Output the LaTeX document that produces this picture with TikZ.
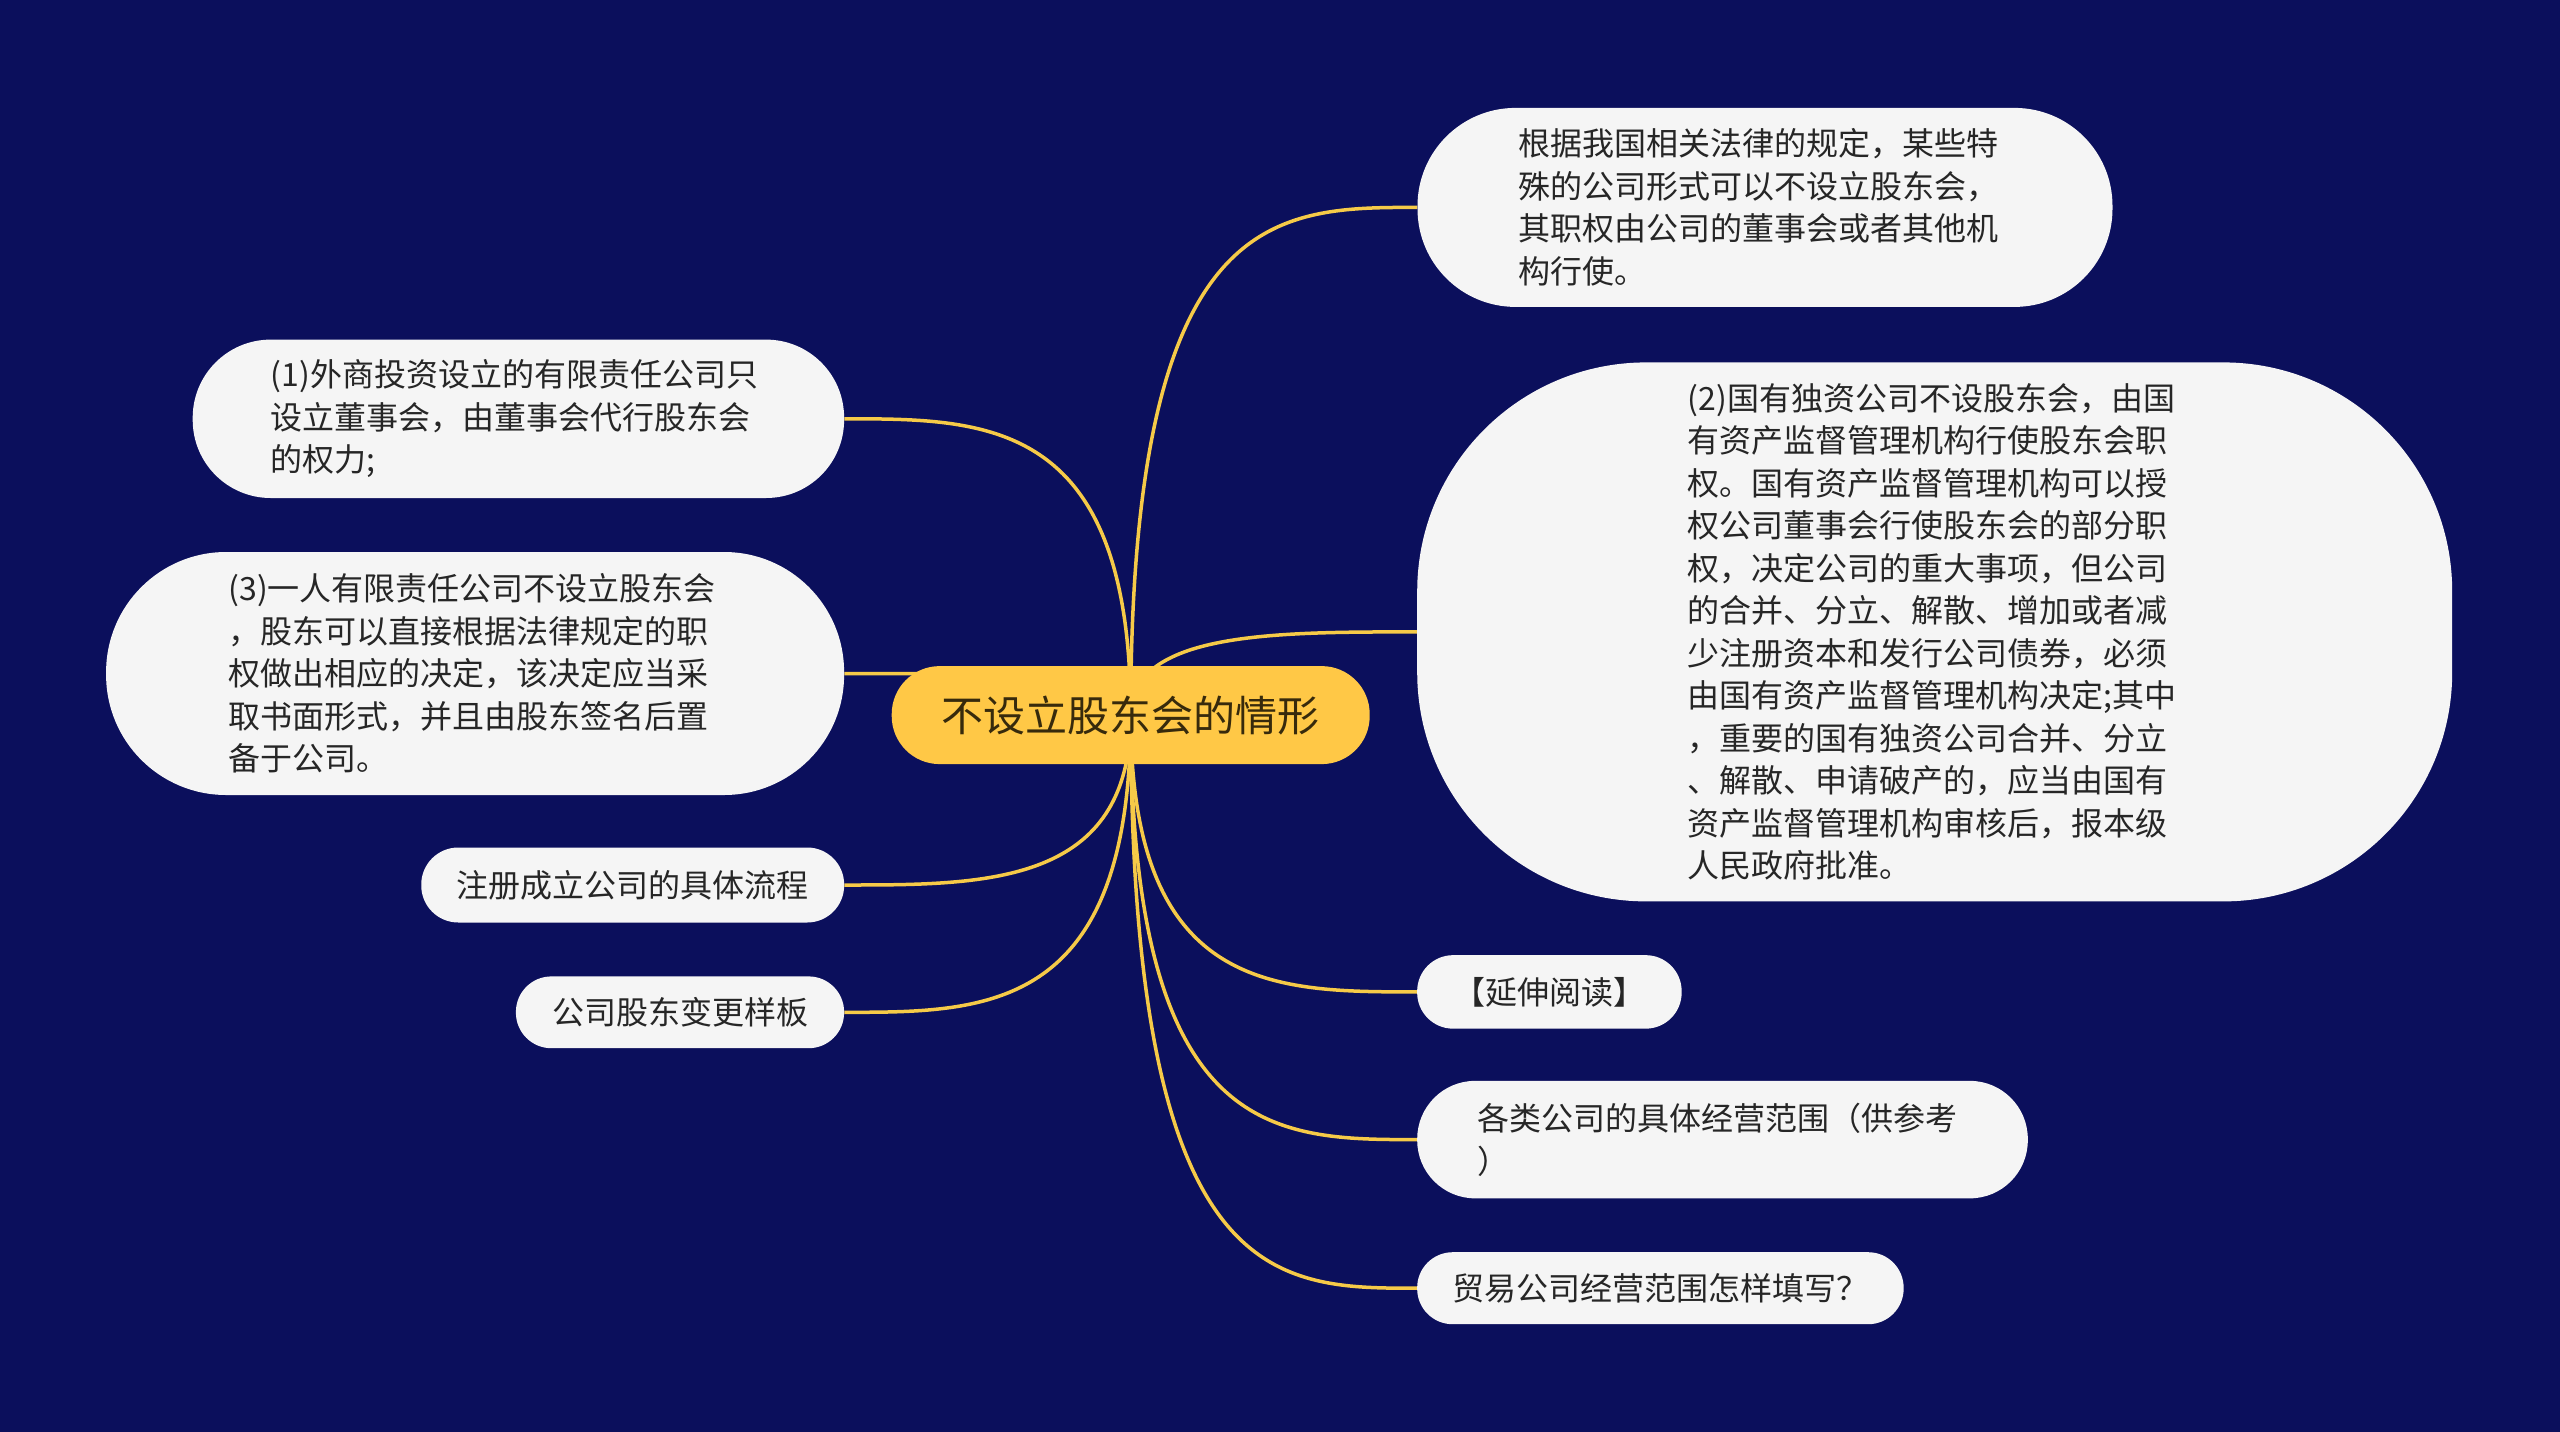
\documentclass[tikz,border=0pt]{standalone}
\usepackage{fontspec}
\setmainfont{Noto Sans CJK SC}
\usetikzlibrary{backgrounds,calc}
\definecolor{bgnavy}{RGB}{11,15,92}
\definecolor{leafgray}{RGB}{245,245,245}
\definecolor{leaftext}{RGB}{38,38,38}
\definecolor{rootfill}{RGB}{255,200,70}
\definecolor{roottext}{RGB}{55,42,12}
\definecolor{linkyellow}{RGB}{246,202,72}
\begin{document}
\begin{tikzpicture}[x=1pt,y=-1pt,
  leaf/.style={fill=leafgray, text=leaftext, inner sep=0pt, align=left,
    font=\fontsize{32}{42.5}\selectfont},
  rootbox/.style={fill=rootfill, text=roottext, inner sep=0pt,
    rounded corners=48pt, minimum width=478pt, minimum height=98pt,
    font=\fontsize{42}{50}\selectfont},
  link/.style={draw=linkyellow, line width=3.5pt}]
\path[use as bounding box] (0,0) rectangle (2560,1432);

\node[rootbox] (root) at (1130.7,715.1) {不设立股东会的情形};

\node[leaf, rounded corners=98pt, minimum width=695pt, minimum height=199pt, text width=494pt] (r1) at (1765,207.4)
 {根据我国相关法律的规定，某些特\\殊的公司形式可以不设立股东会，\\其职权由公司的董事会或者其他机\\构行使。};
\node[leaf, rounded corners=229pt, minimum width=1035pt, minimum height=539pt, text width=494pt] (r2) at (1934.7,631.9)
 {(2)国有独资公司不设股东会，由国\\有资产监督管理机构行使股东会职\\权。国有资产监督管理机构可以授\\权公司董事会行使股东会的部分职\\权，决定公司的重大事项，但公司\\的合并、分立、解散、增加或者减\\少注册资本和发行公司债券，必须\\由国有资产监督管理机构决定;其中\\，重要的国有独资公司合并、分立\\、解散、申请破产的，应当由国有\\资产监督管理机构审核后，报本级\\人民政府批准。};
\node[leaf, rounded corners=36pt, minimum width=264.5pt, minimum height=73.5pt] (r3) at (1549.4,991.9) {【延伸阅读】};
\node[leaf, rounded corners=58pt, minimum width=610.6pt, minimum height=117.5pt, text width=490pt] (r4) at (1722.5,1139.6)
 {各类公司的具体经营范围（供参考\\）};
\node[leaf, rounded corners=35.5pt, minimum width=486.5pt, minimum height=72pt] (r5) at (1660.4,1288.2) {贸易公司经营范围怎样填写？};

\node[leaf, rounded corners=78pt, minimum width=651.4pt, minimum height=158.4pt, text width=495pt] (l1) at (518.4,418.8)
 {(1)外商投资设立的有限责任公司只\\设立董事会，由董事会代行股东会\\的权力;};
\node[leaf, rounded corners=120pt, minimum width=738pt, minimum height=243pt, text width=493pt] (l3) at (475.1,673.5)
 {(3)一人有限责任公司不设立股东会\\，股东可以直接根据法律规定的职\\权做出相应的决定，该决定应当采\\取书面形式，并且由股东签名后置\\备于公司。};
\node[leaf, rounded corners=37pt, minimum width=422.9pt, minimum height=75pt] (l4) at (632.7,885) {注册成立公司的具体流程};
\node[leaf, rounded corners=35.5pt, minimum width=328.2pt, minimum height=71.8pt] (l5) at (680,1012.3) {公司股东变更样板};

\begin{pgfonlayer}{background}
\fill[bgnavy] (0,0) rectangle (2560,1432);
\draw[link] (root.center) .. controls (root.center |- r1.west) and ($(root.center |- r1.west)!0.5!(r1.west)$) .. (r1.west);
\draw[link] (root.center) .. controls (root.center |- r2.west) and ($(root.center |- r2.west)!0.5!(r2.west)$) .. (r2.west);
\draw[link] (root.center) .. controls (root.center |- r3.west) and ($(root.center |- r3.west)!0.5!(r3.west)$) .. (r3.west);
\draw[link] (root.center) .. controls (root.center |- r4.west) and ($(root.center |- r4.west)!0.5!(r4.west)$) .. (r4.west);
\draw[link] (root.center) .. controls (root.center |- r5.west) and ($(root.center |- r5.west)!0.5!(r5.west)$) .. (r5.west);
\draw[link] (root.center) .. controls (root.center |- l1.east) and ($(root.center |- l1.east)!0.5!(l1.east)$) .. (l1.east);
\draw[link] (root.center) .. controls (root.center |- l3.east) and ($(root.center |- l3.east)!0.5!(l3.east)$) .. (l3.east);
\draw[link] (root.center) .. controls (root.center |- l4.east) and ($(root.center |- l4.east)!0.5!(l4.east)$) .. (l4.east);
\draw[link] (root.center) .. controls (root.center |- l5.east) and ($(root.center |- l5.east)!0.5!(l5.east)$) .. (l5.east);
\end{pgfonlayer}
\end{tikzpicture}
\end{document}
